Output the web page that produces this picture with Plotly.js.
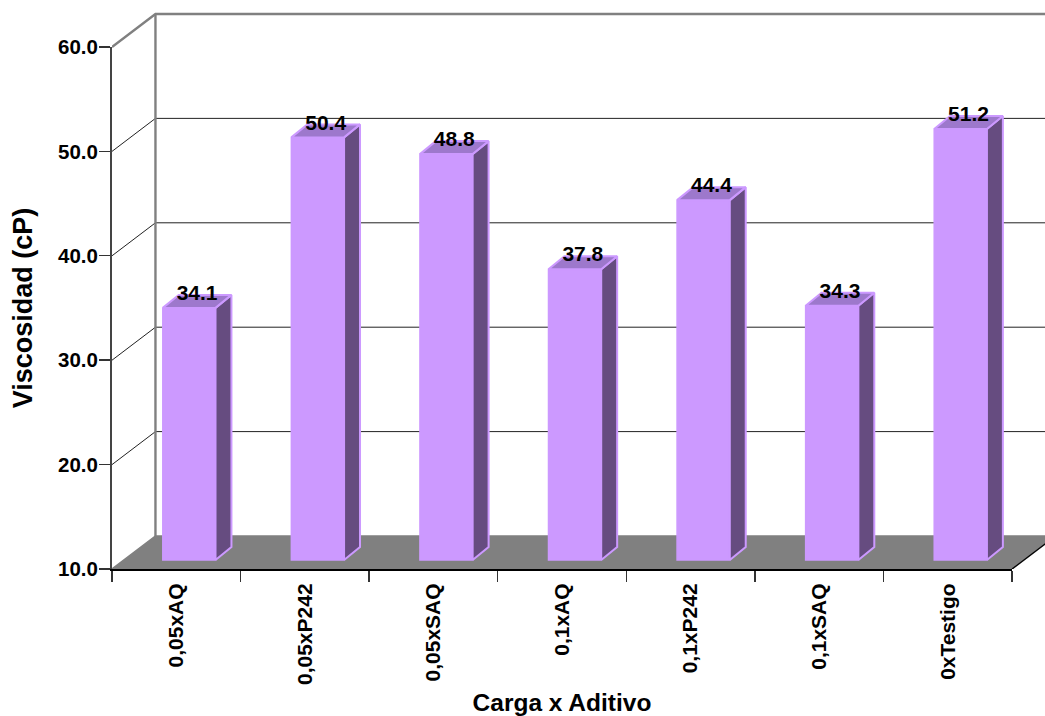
<!DOCTYPE html>
<html>
<head>
<meta charset="utf-8">
<script src="https://cdn.plot.ly/plotly-3.0.1.min.js"></script>
<style>html,body{margin:0;padding:0;background:#fff;overflow:hidden}</style>
</head>
<body>
<div id="chart" style="width:1045px;height:716px"></div>
<script>
// Viscosidad por combinación de carga y aditivo
const categorias = ['0,05xAQ', '0,05xP242', '0,05xSAQ', '0,1xAQ', '0,1xP242', '0,1xSAQ', '0xTestigo'];
const viscosidad = [34.1, 50.4, 48.8, 37.8, 44.4, 34.3, 51.2];
const ticksY = [10, 20, 30, 40, 50, 60];

// Oblique projection used for the pseudo-3D box, in axis units
const paredDx = 0.338, paredDy = 3.16;     // depth of the whole box
const barraDx = 0.124, barraDy = 1.243;    // depth of one bar
const barraDesp = 0.1, barraAncho = 0.41;  // bar offset and width inside its category
const bordeX = categorias.length - 0.5;

const idx = categorias.map((_, i) => i);
const piso = ticksY[0], techo = ticksY[ticksY.length - 1];
const oculto = {hoverinfo: 'skip', showlegend: false};

// Floor and back wall live on a full-page subplot drawn underneath the axes
const suelo = Object.assign({
  x: [-0.5, -0.5 + paredDx, bordeX + paredDx, bordeX, -0.5],
  y: [piso, piso + paredDy, piso + paredDy, piso, piso],
  mode: 'lines', fill: 'toself', fillcolor: '#808080', line: {color: '#808080', width: 1.5}
}, oculto);
const rejillaX = [], rejillaY = [];
ticksY.slice(1, -1).forEach(v => {
  rejillaX.push(-0.5, -0.5 + paredDx, bordeX + paredDx, null);
  rejillaY.push(v, v + paredDy, v + paredDy, null);
});
const rejilla = Object.assign({
  x: rejillaX, y: rejillaY, mode: 'lines', line: {color: '#222', width: 1}
}, oculto);
const pared = Object.assign({
  x: [-0.5 + paredDx, -0.5 + paredDx, null, -0.5, -0.5 + paredDx, bordeX + paredDx],
  y: [piso + paredDy, techo + paredDy, null, techo, techo + paredDy, techo + paredDy],
  mode: 'lines', line: {color: '#808080', width: 2.4}
}, oculto);
const diagonal = Object.assign({
  x: [bordeX, bordeX + paredDx], y: [piso, piso + paredDy],
  mode: 'lines', line: {color: '#000', width: 1.3}
}, oculto);

// Keeps the visible pair of axes attached to a subplot of their own
const ejes = Object.assign({x: [], y: [], xaxis: 'x2', yaxis: 'y2', mode: 'lines'}, oculto);

// Bars: front face as a bar trace, top and side faces as filled polygons
const frente = Object.assign({
  type: 'bar', x: idx, y: viscosidad.map(v => v - piso), base: piso, xaxis: 'x2', yaxis: 'y3',
  width: barraAncho, offset: barraDesp - barraAncho / 2,
  marker: {color: '#CC99FF', line: {color: '#CC99FF', width: 1.5}}
}, oculto);
const latX = [], latY = [], supX = [], supY = [];
viscosidad.forEach((v, i) => {
  const izq = i + barraDesp - barraAncho / 2, der = izq + barraAncho;
  latX.push(der, der + barraDx, der + barraDx, der, der, null);
  latY.push(piso, piso + barraDy, v + barraDy, v, piso, null);
  supX.push(izq, der, der + barraDx, izq + barraDx, izq, null);
  supY.push(v, v, v + barraDy, v + barraDy, v, null);
});
const lateral = Object.assign({
  x: latX, y: latY, xaxis: 'x2', yaxis: 'y3', mode: 'lines', fill: 'toself', fillcolor: '#664C80',
  line: {color: '#CC99FF', width: 2}
}, oculto);
const superior = Object.assign({
  x: supX, y: supY, xaxis: 'x2', yaxis: 'y3', mode: 'lines', fill: 'toself', fillcolor: '#9D78CC',
  line: {color: '#CC99FF', width: 2}
}, oculto);
const etiquetas = Object.assign({
  x: idx.map(i => i + barraDesp + barraDx / 2), y: viscosidad.map(v => v + barraDy), xaxis: 'x2', yaxis: 'y3',
  mode: 'text', text: viscosidad.map(v => v.toFixed(1)), textposition: 'middle center', cliponaxis: false,
  textfont: {family: 'Liberation Sans', size: 21, color: '#000', weight: 700}
}, oculto);

const fuenteY = {family: 'Liberation Sans', size: 20.5, color: '#000', weight: 700};
const fuenteX = {family: 'Liberation Sans', size: 21, color: '#000', weight: 700};
const layout = {
  width: 1045, height: 716, autosize: false,
  margin: {l: 112, r: 0, t: 0, b: 147, pad: 0},
  paper_bgcolor: '#fff', plot_bgcolor: 'rgba(0,0,0,0)',
  showlegend: false,
  // Full-page pair for the box
  xaxis: {domain: [0, 1], range: [-0.5, 6.7567], visible: false, anchor: 'y', fixedrange: true},
  yaxis: {domain: [0, 1], range: [10, 64.5], visible: false, anchor: 'x', fixedrange: true},
  // Visible axes, spanning the front edge of the box
  xaxis2: {
    domain: [0, 0.96463], anchor: 'y2',
    range: [-0.5, bordeX], tickmode: 'array', tickvals: idx, ticktext: categorias,
    ticks: '', tickangle: -90, ticklabelstandoff: 4, tickfont: fuenteX, showgrid: false, zeroline: false,
    showline: true, linecolor: '#000', linewidth: 2,
    minor: {tickmode: 'array', tickvals: idx.concat(categorias.length).map(i => i - 0.5),
            ticks: 'outside', ticklen: 11, tickcolor: '#333', tickwidth: 1.4, showgrid: false},
    title: {text: 'Carga x Aditivo', font: {family: 'Liberation Sans', size: 24.5, color: '#000', weight: 700}, standoff: 11}
  },
  yaxis2: {
    domain: [0, 0.9174], anchor: 'x2',
    range: [piso, techo], tickmode: 'array', tickvals: ticksY, ticktext: ticksY.map(v => v.toFixed(1)),
    ticks: 'outside', ticklen: 11, tickcolor: '#333', tickwidth: 1.4, tickfont: fuenteY, ticklabelstandoff: -3,
    showgrid: false, zeroline: false, showline: true, linecolor: '#444', linewidth: 2,
    title: {text: 'Viscosidad (cP)', font: {family: 'Liberation Sans', size: 27, color: '#000', weight: 700}, standoff: 18}
  },
  // Plane of the bar fronts: sits a little deeper than the front of the box
  yaxis3: {overlaying: 'y2', anchor: 'x2', range: [9.14, 59.04], visible: false, fixedrange: true}
};

Plotly.newPlot('chart', [suelo, rejilla, pared, diagonal, ejes, frente, lateral, superior, etiquetas], layout,
  {displayModeBar: false, staticPlot: true});
</script>
</body>
</html>
